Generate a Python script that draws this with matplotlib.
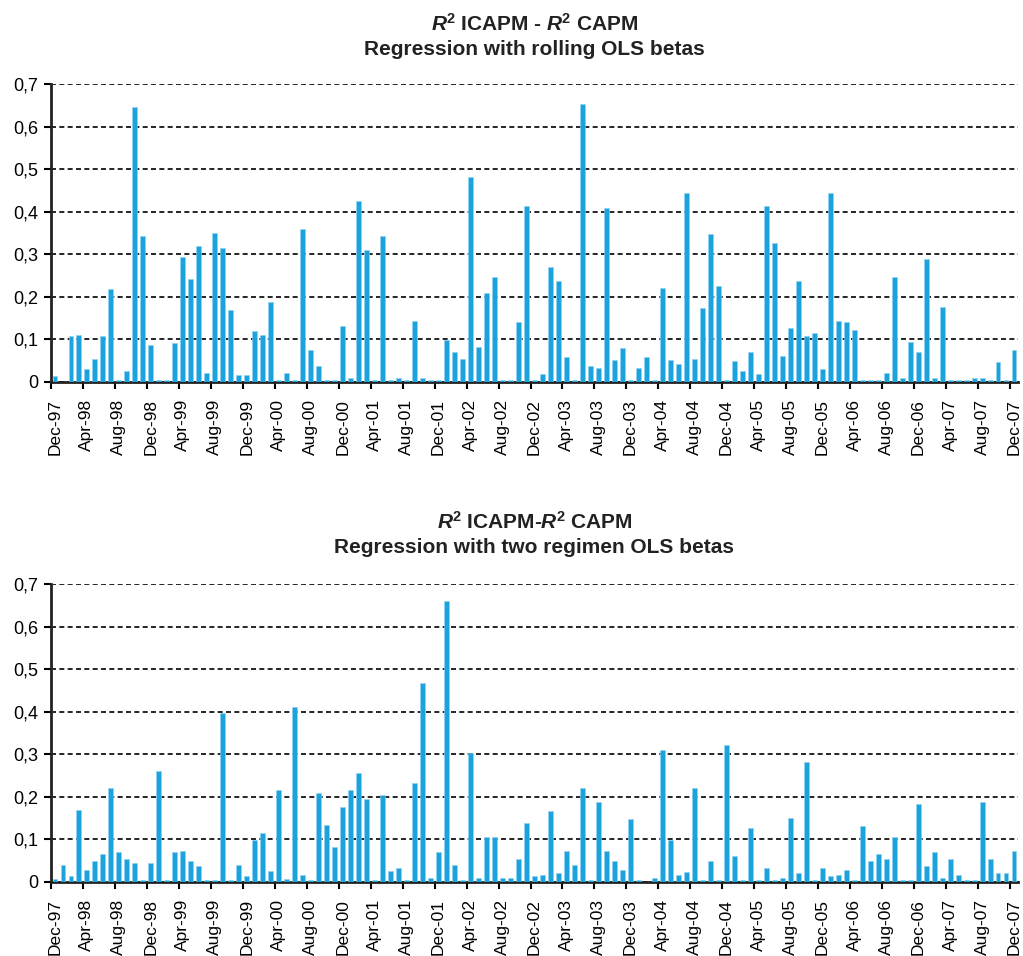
import numpy as np
import pandas as pd
import matplotlib.pyplot as plt
from matplotlib.ticker import FuncFormatter

plt.rcParams["font.family"] = ["Liberation Sans", "DejaVu Sans"]
plt.rcParams["mathtext.fontset"] = "custom"
plt.rcParams["mathtext.rm"] = "Liberation Sans"
plt.rcParams["mathtext.it"] = "Liberation Sans:italic"
plt.rcParams["mathtext.bf"] = "Liberation Sans:bold"
plt.rcParams["mathtext.bfit"] = "Liberation Sans:bold:italic"

# monthly categories, Dec-97 .. Dec-07
months = pd.date_range("1997-12-01", periods=121, freq="MS")
month_labels = [d.strftime("%b-%y") for d in months]

# R2 ICAPM - R2 CAPM, rolling OLS betas
rolling_ols = [
    0.015, 0.0, 0.107, 0.111, 0.030, 0.054, 0.107, 0.218, 0.005, 0.026,
    0.645, 0.343, 0.087, 0.005, 0.005, 0.091, 0.294, 0.241, 0.319, 0.021,
    0.351, 0.315, 0.169, 0.017, 0.017, 0.119, 0.111, 0.189, 0.005, 0.021,
    0.005, 0.359, 0.075, 0.038, 0.005, 0.005, 0.132, 0.009, 0.425, 0.311,
    0.005, 0.343, 0.005, 0.009, 0.005, 0.144, 0.009, 0.005, 0.005, 0.099,
    0.071, 0.055, 0.482, 0.083, 0.209, 0.246, 0.005, 0.005, 0.140, 0.413,
    0.005, 0.018, 0.270, 0.238, 0.059, 0.005, 0.653, 0.038, 0.034, 0.408,
    0.051, 0.079, 0.005, 0.034, 0.059, 0.005, 0.221, 0.051, 0.042, 0.445,
    0.055, 0.173, 0.347, 0.226, 0.005, 0.050, 0.026, 0.071, 0.018, 0.413,
    0.327, 0.062, 0.128, 0.237, 0.107, 0.116, 0.030, 0.445, 0.144, 0.140,
    0.123, 0.005, 0.005, 0.005, 0.021, 0.246, 0.009, 0.094, 0.071, 0.290,
    0.009, 0.176, 0.005, 0.005, 0.005, 0.009, 0.009, 0.005, 0.046, 0.005,
    0.075,
]

# R2 ICAPM - R2 CAPM, two regimen OLS betas
two_regimen_ols = [
    0.008, 0.041, 0.013, 0.168, 0.029, 0.049, 0.066, 0.221, 0.070, 0.053,
    0.045, 0.005, 0.045, 0.261, 0.005, 0.070, 0.073, 0.049, 0.038, 0.005,
    0.005, 0.396, 0.005, 0.041, 0.013, 0.099, 0.115, 0.025, 0.217, 0.008,
    0.412, 0.016, 0.005, 0.209, 0.134, 0.082, 0.176, 0.217, 0.257, 0.196,
    0.005, 0.204, 0.025, 0.033, 0.005, 0.233, 0.468, 0.009, 0.070, 0.661,
    0.041, 0.005, 0.303, 0.009, 0.106, 0.106, 0.009, 0.009, 0.053, 0.139,
    0.013, 0.016, 0.167, 0.021, 0.073, 0.041, 0.220, 0.005, 0.188, 0.073,
    0.049, 0.029, 0.147, 0.005, 0.0, 0.009, 0.310, 0.098, 0.017, 0.024,
    0.220, 0.005, 0.049, 0.005, 0.322, 0.062, 0.005, 0.127, 0.005, 0.033,
    0.005, 0.009, 0.151, 0.020, 0.281, 0.005, 0.033, 0.013, 0.016, 0.029,
    0.005, 0.131, 0.049, 0.066, 0.053, 0.106, 0.005, 0.005, 0.184, 0.038,
    0.070, 0.009, 0.053, 0.016, 0.005, 0.005, 0.188, 0.053, 0.021, 0.021,
    0.073,
]

titles = [
    "$\\mathbfit{R}^{\\mathbf{2}}$ ICAPM - $\\mathbfit{R}^{\\mathbf{2}}$ CAPM\n"
    "Regression with rolling OLS betas",
    "$\\mathbfit{R}^{\\mathbf{2}}$ ICAPM-$\\mathbfit{R}^{\\mathbf{2}}$ CAPM\n"
    "Regression with two regimen OLS betas",
]

bar_color = "#1BA3DD"
W, H = 1023, 956
fig = plt.figure(figsize=(W / 100, H / 100), dpi=100)

# axes boxes in pixels: (left, y of 0.7, right, y of 0)
boxes = [(51, 84, 1018, 382), (51, 584, 1018, 882)]
title_y = [36, 534]

x = np.arange(len(months))
for values, title, (l, t, r, b), ty in zip(
    [rolling_ols, two_regimen_ols], titles, boxes, title_y
):
    ax = fig.add_axes([l / W, 1 - b / H, (r - l) / W, (b - t) / H])
    ax.bar(x, values, width=0.62, color=bar_color, edgecolor="#8FD3F0",
           linewidth=0.4, zorder=3)

    ax.set_xlim(-0.5, len(months) - 0.5)
    ax.set_ylim(0, 0.7)
    ax.set_yticks(np.arange(0, 0.71, 0.1))
    ax.yaxis.set_major_formatter(
        FuncFormatter(lambda v, p: "0" if abs(v) < 1e-9 else f"{v:.1f}".replace(".", ","))
    )
    ax.grid(axis="y", linestyle=(0, (3, 2)), color="black", linewidth=1.2, zorder=0)
    ax.set_axisbelow(True)

    # labels on the first month of each group, tick marks at group boundaries
    ax.set_xticks(x[::4])
    ax.set_xticklabels(month_labels[::4], rotation=90, fontsize=12.5)
    ax.tick_params(axis="x", which="major", length=0, pad=12)
    ax.set_xticks(np.arange(-0.5, len(months), 4), minor=True)
    ax.tick_params(axis="x", which="minor", length=5, width=1.5, direction="out")
    ax.tick_params(axis="y", labelsize=13, length=5, width=1.5, direction="out", pad=4)

    for side in ("top", "right"):
        ax.spines[side].set_visible(False)
    for side in ("left", "bottom"):
        ax.spines[side].set_linewidth(2)
        ax.spines[side].set_color("#222222")

    fig.text((l + r) / 2 / W, 1 - ty / H, title, ha="center", va="center",
             fontsize=15, fontweight="bold", linespacing=1.35, color="#222222")

fig.savefig("out.png", dpi=100)
